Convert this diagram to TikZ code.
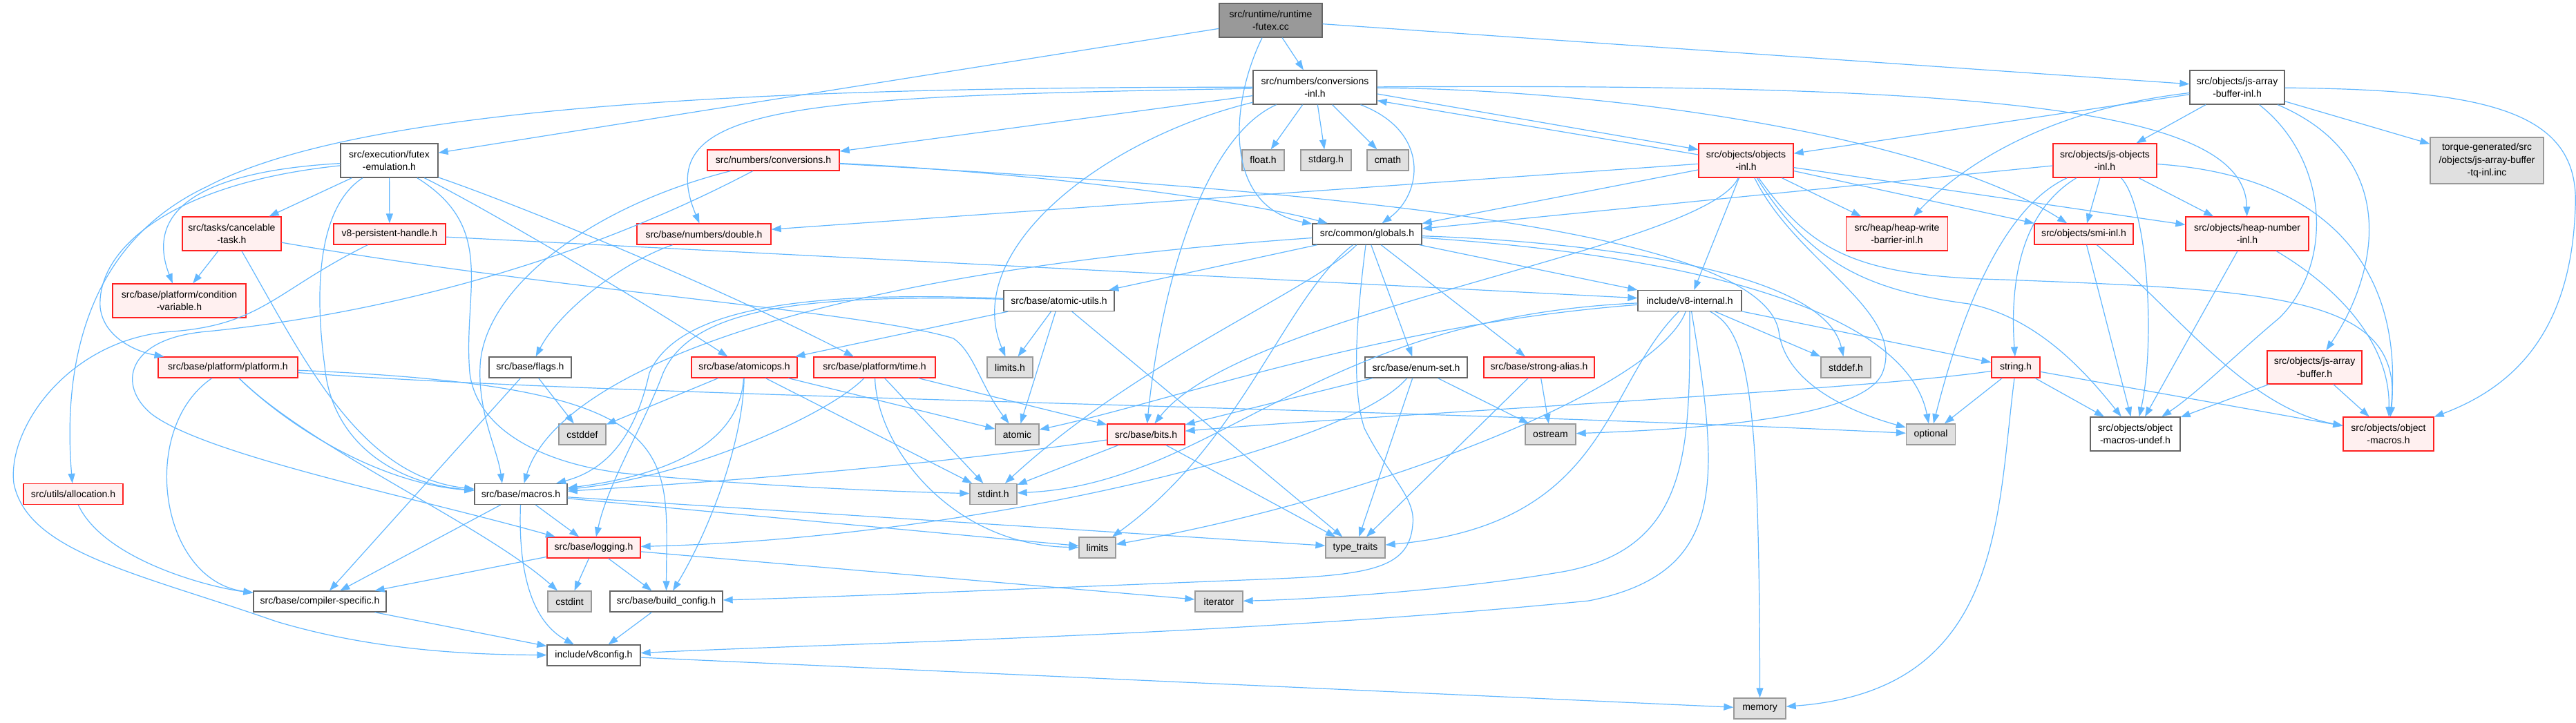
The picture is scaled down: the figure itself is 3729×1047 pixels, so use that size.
\documentclass[tikz,border=0pt]{standalone}
\usepackage{fontspec}
\setmainfont{Liberation Sans}
\usetikzlibrary{arrows.meta}
\definecolor{edgec}{HTML}{63B8FF}
\definecolor{nred}{HTML}{FF2020}
\definecolor{npink}{HTML}{FFF0F0}
\definecolor{ngray}{HTML}{666666}
\definecolor{gfill}{HTML}{E0E0E0}
\definecolor{gbord}{HTML}{999999}
\definecolor{tfill}{HTML}{999999}
\begin{document}
\begin{tikzpicture}[x=0.5pt,y=-0.5pt,
  base/.style={rectangle, inner sep=0pt, align=center, font=\fontsize{7}{9.3}\selectfont, line width=0.65pt},
  wn/.style={base, draw=ngray, fill=white},
  rn/.style={base, draw=nred, fill=npink},
  gn/.style={base, draw=gbord, fill=gfill},
  tn/.style={base, draw=ngray, fill=tfill},
  sz/.style 2 args={minimum width=#1*0.5pt, minimum height=#2*0.5pt},
  e/.style={draw=edgec, line width=0.6pt, -{Triangle[length=7pt,width=5pt]}}]
\fill[white] (0,0) rectangle (3729,1047);
\useasboundingbox (0,0) rectangle (3729,1047);
% ---------------- nodes ----------------
\node[tn, sz={149}{49}] (futexcc) at (1839.5,29.5) {src/runtime/runtime\\-futex.cc};
\node[wn, sz={179}{49}] (convinl) at (1903.5,126.5) {src/numbers/conversions\\-inl.h};
\node[wn, sz={137}{49}] (jsabinl) at (3238.5,126.5) {src/objects/js-array\\-buffer-inl.h};
\node[wn, sz={141}{49}] (futexemu) at (563.5,232.5) {src/execution/futex\\-emulation.h};
\node[rn, sz={191}{30}] (convh) at (1119.5,232) {src/numbers/conversions.h};
\node[gn, sz={61}{30}] (floath) at (1828.5,232) {float.h};
\node[gn, sz={73}{30}] (stdargh) at (1919.5,232) {stdarg.h};
\node[gn, sz={60}{30}] (cmath) at (2009,232) {cmath};
\node[rn, sz={137}{49}] (objinl) at (2527.5,232.5) {src/objects/objects\\-inl.h};
\node[rn, sz={150}{49}] (jsobjinl) at (3047,232.5) {src/objects/js-objects\\-inl.h};
\node[gn, sz={164}{67}] (torque) at (3600,232.5) {torque-generated/src\\/objects/js-array-buffer\\-tq-inl.inc};
\node[rn, sz={143}{49}] (cancel) at (335.5,338.5) {src/tasks/cancelable\\-task.h};
\node[rn, sz={162}{30}] (v8ph) at (564,339) {v8-persistent-handle.h};
\node[rn, sz={194}{30}] (double) at (1019,339) {src/base/numbers/double.h};
\node[wn, sz={158}{30}] (globals) at (1979,339) {src/common/globals.h};
\node[rn, sz={147}{49}] (hwb) at (2746,338.5) {src/heap/heap-write\\-barrier-inl.h};
\node[rn, sz={143}{30}] (smi) at (3016.5,339) {src/objects/smi-inl.h};
\node[rn, sz={178}{49}] (heapnum) at (3253,338.5) {src/objects/heap-number\\-inl.h};
\node[rn, sz={193}{49}] (condvar) at (259.5,435.5) {src/base/platform/condition\\-variable.h};
\node[wn, sz={160}{30}] (atomicutils) at (1533,435.5) {src/base/atomic-utils.h};
\node[wn, sz={150}{30}] (v8int) at (2446,435.5) {include/v8-internal.h};
\node[rn, sz={202}{30}] (platform) at (330,532) {src/base/platform/platform.h};
\node[wn, sz={119}{30}] (flags) at (767.5,532) {src/base/flags.h};
\node[rn, sz={153}{30}] (atomicops) at (1077.5,532) {src/base/atomicops.h};
\node[rn, sz={176}{30}] (time) at (1266,532) {src/base/platform/time.h};
\node[gn, sz={66}{30}] (limitsh) at (1462,532) {limits.h};
\node[wn, sz={148}{30}] (enumset) at (2050,532) {src/base/enum-set.h};
\node[rn, sz={160}{30}] (strongalias) at (2228,532) {src/base/strong-alias.h};
\node[gn, sz={72}{30}] (stddefh) at (2672,532) {stddef.h};
\node[rn, sz={70}{30}] (stringh) at (2918,532) {string.h};
\node[rn, sz={137}{48}] (jsab) at (3350.5,532) {src/objects/js-array\\-buffer.h};
\node[gn, sz={68}{30}] (cstddef) at (843,629) {cstddef};
\node[gn, sz={63}{30}] (atomic) at (1472.5,629) {atomic};
\node[rn, sz={112}{30}] (bits) at (1659,629) {src/base/bits.h};
\node[gn, sz={73}{30}] (ostream) at (2244.5,629) {ostream};
\node[gn, sz={71}{30}] (optional) at (2795,629) {optional};
\node[wn, sz={130}{49}] (omundef) at (3091,628.5) {src/objects/object\\-macros-undef.h};
\node[rn, sz={131}{49}] (om) at (3457.5,628.5) {src/objects/object\\-macros.h};
\node[rn, sz={144}{30}] (allocation) at (106,715.5) {src/utils/allocation.h};
\node[wn, sz={134}{30}] (macros) at (754,715.5) {src/base/macros.h};
\node[gn, sz={68}{30}] (stdint) at (1438,715.5) {stdint.h};
\node[rn, sz={135}{30}] (logging) at (859.5,793) {src/base/logging.h};
\node[gn, sz={53}{30}] (limits) at (1588.5,793) {limits};
\node[gn, sz={86}{30}] (typetraits) at (1962,793) {type\_traits};
\node[wn, sz={192}{30}] (compiler) at (463,871) {src/base/compiler-specific.h};
\node[gn, sz={63}{30}] (cstdint) at (824.5,871) {cstdint};
\node[wn, sz={163}{30}] (buildconfig) at (964.5,871) {src/base/build\_config.h};
\node[gn, sz={69}{30}] (iterator) at (1764.5,871) {iterator};
\node[wn, sz={135}{30}] (v8config) at (859.5,949) {include/v8config.h};
\node[gn, sz={75}{30}] (memory) at (2547.5,1026) {memory};
% ---------------- edges ----------------
% runtime-futex.cc
\draw[e] (futexcc) -- (convinl);
\draw[e] (futexcc) -- (futexemu);
\draw[e] (futexcc) .. controls (1780,150) and (1770,300) .. (globals);
\draw[e] (futexcc) -- (jsabinl);
% conversions-inl.h
\draw[e] (convinl) -- (floath);
\draw[e] (convinl) -- (stdargh);
\draw[e] (convinl) -- (cmath);
\draw[e] (convinl) .. controls (2070,190) and (2060,280) .. (globals);
\draw[e] (convinl) -- (convh);
\draw[e] (convinl) .. controls (1150,140) and (940,150) .. (double);
\draw[e] (convinl.-6) -- (objinl.167);
\draw[e] (convinl) .. controls (1600,200) and (1390,360) .. (limitsh);
\draw[e] (convinl) .. controls (1740,200) and (1680,420) .. (bits);
\draw[e] (convinl) .. controls (2900,120) and (3250,160) .. (heapnum);
\draw[e] (convinl) .. controls (2350,130) and (2800,200) .. (smi);
\draw[e] (convinl) .. controls (1000,125) and (500,165) .. (300,270) .. controls (130,350) and (90,520) .. (allocation);
% objects-inl.h
\draw[e] (objinl.173) -- (convinl.-12);
\draw[e] (objinl) -- (double);
\draw[e] (objinl) -- (globals);
\draw[e] (objinl) -- (v8int);
\draw[e] (objinl) -- (hwb);
\draw[e] (objinl) -- (smi);
\draw[e] (objinl) -- (heapnum);
\draw[e] (objinl) .. controls (2470,360) and (1800,450) .. (bits);
\draw[e] (objinl) .. controls (2600,380) and (2760,450) .. (2725,540) .. controls (2700,600) and (2500,620) .. (ostream);
\draw[e] (objinl) .. controls (2620,360) and (2680,400) .. (2900,405) .. controls (3300,420) and (3480,430) .. (om);
\draw[e] (objinl) .. controls (2620,380) and (2700,420) .. (2850,440) .. controls (2950,460) and (3020,540) .. (omundef);
% js-array-buffer-inl.h
\draw[e] (jsabinl) -- (objinl);
\draw[e] (jsabinl) .. controls (2950,160) and (2830,250) .. (hwb);
\draw[e] (jsabinl) -- (jsobjinl);
\draw[e] (jsabinl) -- (torque);
\draw[e] (jsabinl) .. controls (3480,230) and (3440,400) .. (jsab);
\draw[e] (jsabinl) .. controls (3600,130) and (3735,160) .. (3728,300) .. controls (3722,480) and (3640,560) .. (om);
\draw[e] (jsabinl) .. controls (3370,230) and (3380,380) .. (3300,460) .. controls (3240,510) and (3180,570) .. (omundef);
% js-objects-inl.h
\draw[e] (jsobjinl) -- (globals);
\draw[e] (jsobjinl) -- (smi);
\draw[e] (jsobjinl) -- (heapnum);
\draw[e] (jsobjinl) .. controls (2920,310) and (2910,420) .. (stringh);
\draw[e] (jsobjinl) .. controls (2900,300) and (2840,450) .. (optional);
\draw[e] (jsobjinl) .. controls (3380,255) and (3480,400) .. (om);
\draw[e] (jsobjinl) .. controls (3110,300) and (3120,500) .. (omundef);
% smi, heap-number, js-array-buffer
\draw[e] (smi) -- (omundef);
\draw[e] (smi) .. controls (3150,450) and (3250,590) .. (om);
\draw[e] (heapnum) -- (omundef);
\draw[e] (heapnum) .. controls (3390,420) and (3460,500) .. (om);
\draw[e] (jsab) -- (omundef);
\draw[e] (jsab) -- (om);
% string.h
\draw[e] (stringh) -- (optional);
\draw[e] (stringh) -- (omundef);
\draw[e] (stringh) -- (om);
\draw[e] (stringh) .. controls (2890,750) and (2900,1000) .. (memory);
\draw[e] (stringh) .. controls (2700,565) and (2000,600) .. (bits);
% globals.h
\draw[e] (globals) -- (v8int);
\draw[e] (globals) -- (atomicutils);
\draw[e] (globals) .. controls (1100,400) and (800,560) .. (macros);
\draw[e] (globals) -- (enumset);
\draw[e] (globals) -- (strongalias);
\draw[e] (globals) .. controls (2300,350) and (2640,390) .. (stddefh);
\draw[e] (globals) .. controls (1900,420) and (1650,520) .. (stdint);
\draw[e] (globals) .. controls (1860,430) and (1800,640) .. (limits);
\draw[e] (globals) .. controls (1965,450) and (1955,560) .. (1975,620) .. controls (2010,690) and (2050,720) .. (2045,760) .. controls (2040,820) and (1990,832) .. (1850,838) .. controls (1500,852) and (1200,865) .. (buildconfig);
\draw[e] (globals) .. controls (2450,370) and (2760,450) .. (optional);
% v8-internal.h
\draw[e] (v8int) .. controls (2000,470) and (1700,580) .. (atomic);
\draw[e] (v8int) .. controls (1900,460) and (1760,700) .. (stdint);
\draw[e] (v8int) .. controls (2400,560) and (2000,720) .. (limits);
\draw[e] (v8int) .. controls (2320,560) and (2330,760) .. (typetraits);
\draw[e] (v8int) .. controls (2446,650) and (2450,800) .. (2250,830) .. controls (2100,855) and (1900,868) .. (iterator);
\draw[e] (v8int) .. controls (2490,700) and (2500,830) .. (2300,870) .. controls (1800,920) and (1200,932) .. (v8config);
\draw[e] (v8int) .. controls (2530,480) and (2547,560) .. (memory);
\draw[e] (v8int) -- (stddefh);
\draw[e] (v8int) -- (stringh);
% v8-persistent-handle.h
\draw[e] (v8ph) -- (v8int);
\draw[e] (v8ph) .. controls (400,420) and (380,470) .. (250,480) .. controls (100,490) and (10,620) .. (20,700) .. controls (40,800) and (200,830) .. (400,900) .. controls (550,945) and (700,948) .. (v8config);
% conversions.h
\draw[e] (convh) .. controls (1500,250) and (1800,290) .. (globals);
\draw[e] (convh) .. controls (2000,280) and (2550,340) .. (2575,480) .. controls (2585,560) and (2690,600) .. (optional);
\draw[e] (convh) .. controls (850,300) and (700,420) .. (695,530) .. controls (692,600) and (720,650) .. (macros.150);
\draw[e] (convh) .. controls (800,400) and (500,460) .. (300,480) .. controls (180,490) and (170,560) .. (220,600) .. controls (300,660) and (600,720) .. (logging);
% double.h
\draw[e] (double) .. controls (900,380) and (810,450) .. (flags);
% futex-emulation.h
\draw[e] (futexemu) -- (cancel);
\draw[e] (futexemu) -- (v8ph);
\draw[e] (futexemu) .. controls (260,250) and (215,320) .. (condvar);
\draw[e] (futexemu) .. controls (250,265) and (140,360) .. (145,445) .. controls (150,490) and (200,510) .. (platform);
\draw[e] (futexemu) .. controls (460,300) and (455,420) .. (470,530) .. controls (480,640) and (570,700) .. (macros);
\draw[e] (futexemu) .. controls (720,330) and (670,420) .. (680,540) .. controls (690,620) and (780,670) .. (900,685) .. controls (1100,705) and (1300,712) .. (stdint);
\draw[e] (futexemu) .. controls (700,300) and (920,430) .. (atomicops);
\draw[e] (futexemu) .. controls (760,300) and (1050,420) .. (time);
% cancelable-task.h
\draw[e] (cancel) -- (condvar);
\draw[e] (cancel) .. controls (800,420) and (1250,450) .. (1380,490) .. controls (1410,510) and (1420,560) .. (atomic);
\draw[e] (cancel) .. controls (440,520) and (520,690) .. (macros);
% atomic-utils.h
\draw[e] (atomicutils) .. controls (1150,420) and (980,450) .. (940,540) .. controls (920,630) and (880,680) .. (macros.17);
\draw[e] (atomicutils) .. controls (1150,425) and (1000,450) .. (960,540) .. controls (930,620) and (880,700) .. (logging);
\draw[e] (atomicutils) -- (atomicops);
\draw[e] (atomicutils) -- (limitsh);
\draw[e] (atomicutils) -- (atomic);
\draw[e] (atomicutils) -- (typetraits);
% platform.h
\draw[e] (platform) .. controls (200,620) and (230,840) .. (compiler);
\draw[e] (platform) .. controls (420,620) and (550,700) .. (macros);
\draw[e] (platform) .. controls (900,575) and (2000,590) .. (optional);
\draw[e] (platform) .. controls (1000,560) and (965,650) .. (buildconfig);
\draw[e] (platform) .. controls (450,650) and (700,760) .. (cstdint);
% flags.h
\draw[e] (flags) -- (cstddef);
\draw[e] (flags) -- (compiler);
% atomicops.h
\draw[e] (atomicops) -- (cstddef);
\draw[e] (atomicops) .. controls (1070,650) and (950,690) .. (macros);
\draw[e] (atomicops) -- (stdint);
\draw[e] (atomicops) .. controls (1075,650) and (1020,780) .. (buildconfig);
\draw[e] (atomicops) -- (atomic);
% time.h
\draw[e] (time) .. controls (1200,600) and (1000,690) .. (macros);
\draw[e] (time) -- (stdint);
\draw[e] (time) .. controls (1270,650) and (1380,790) .. (limits);
\draw[e] (time) -- (bits);
% enum-set.h, strong-alias.h
\draw[e] (enumset) -- (bits);
\draw[e] (enumset) .. controls (1950,650) and (1400,780) .. (logging);
\draw[e] (enumset) -- (typetraits);
\draw[e] (enumset) -- (ostream);
\draw[e] (strongalias) -- (ostream);
\draw[e] (strongalias) -- (typetraits);
% bits.h
\draw[e] (bits) -- (stdint);
\draw[e] (bits) .. controls (1300,680) and (1000,700) .. (macros);
\draw[e] (bits) -- (typetraits);
% macros.h
\draw[e] (macros) -- (logging);
\draw[e] (macros) .. controls (750,830) and (770,900) .. (v8config);
\draw[e] (macros) -- (compiler);
\draw[e] (macros) -- (typetraits);
\draw[e] (macros) -- (limits);
% logging.h
\draw[e] (logging) -- (cstdint);
\draw[e] (logging) -- (buildconfig);
\draw[e] (logging) -- (compiler);
\draw[e] (logging) -- (iterator);
% rest
\draw[e] (compiler) -- (v8config);
\draw[e] (buildconfig) -- (v8config);
\draw[e] (allocation) .. controls (150,810) and (300,850) .. (compiler);
\draw[e] (v8config) -- (memory);
\end{tikzpicture}
\end{document}
